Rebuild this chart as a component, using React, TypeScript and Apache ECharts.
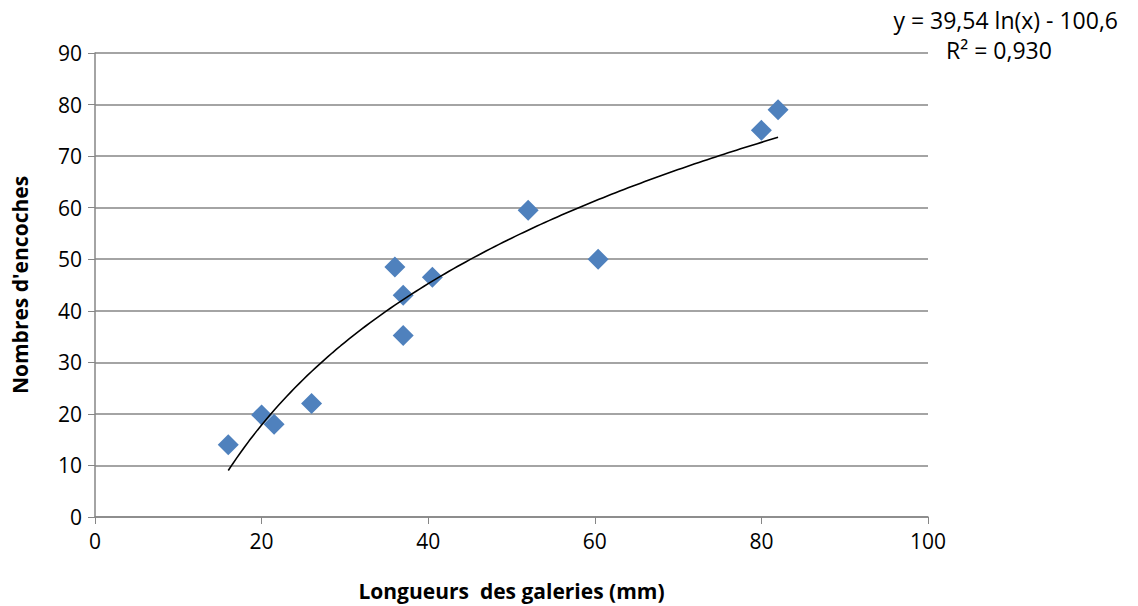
import React, { useEffect, useRef } from "react";
import * as echarts from "echarts";

const lengths = [16, 20, 21.5, 26, 36, 37, 37, 40.5, 52, 60.4, 80, 82];
const notches = [14, 19.8, 18, 22, 48.5, 43, 35.2, 46.5, 59.5, 50, 75, 79];
const trendA = 39.54;
const trendB = -100.6;
const trendFrom = 16;
const trendTo = 82;
const equationText = "y = 39,54 ln(x) - 100,6";
const r2Text = "R² = 0,930";
const xTitle = "Longueurs  des galeries (mm)";
const yTitle = "Nombres d'encoches";

export default function App() {
  const ref = useRef<HTMLDivElement>(null);
  useEffect(() => {
    if (!ref.current) return;
    const chart = echarts.init(ref.current, undefined, { renderer: "svg" });
    const trend: number[][] = [];
    for (let i = 0; i <= 132; i++) {
      const x = trendFrom + ((trendTo - trendFrom) * i) / 132;
      trend.push([x, trendA * Math.log(x) + trendB]);
    }
    const font = "'Open Sans', 'Noto Sans', sans-serif";
    chart.setOption({
      animation: false,
      grid: { left: 95, right: 210, top: 53, bottom: 88 },
      xAxis: {
        type: "value",
        min: 0,
        max: 100,
        interval: 20,
        name: xTitle,
        nameLocation: "middle",
        nameGap: 63,
        nameTextStyle: { fontFamily: font, fontSize: 21, fontWeight: "bold", color: "#000" },
        axisLine: { show: true, lineStyle: { color: "#868686", width: 1.5 } },
        axisTick: { show: true, length: 7, lineStyle: { color: "#868686" } },
        axisLabel: { fontFamily: font, fontSize: 21, color: "#000", margin: 13 },
        splitLine: { show: false },
      },
      yAxis: {
        type: "value",
        min: 0,
        max: 90,
        interval: 10,
        name: yTitle,
        nameLocation: "middle",
        nameGap: 65,
        nameTextStyle: { fontFamily: font, fontSize: 21, fontWeight: "bold", color: "#000" },
        axisLine: { show: true, lineStyle: { color: "#868686", width: 1.5 } },
        axisTick: { show: true, inside: false, length: 7, lineStyle: { color: "#868686" } },
        axisLabel: { fontFamily: font, fontSize: 21, color: "#000", margin: 13 },
        splitLine: { show: true, lineStyle: { color: "#868686", width: 1.5 } },
      },
      series: [
        {
          type: "scatter",
          data: lengths.map((x, i) => [x, notches[i]]),
          symbol: "diamond",
          symbolSize: [21, 21],
          itemStyle: { color: "#4F81BD", opacity: 1 },
          z: 3,
        },
        {
          type: "line",
          data: trend,
          showSymbol: false,
          symbol: "none",
          lineStyle: { color: "#000", width: 1.6 },
          z: 4,
        },
      ],
      graphic: [
        {
          type: "text",
          right: 20,
          top: 8,
          style: { text: equationText, fontFamily: font, fontSize: 23, fill: "#000" },
        },
        {
          type: "text",
          left: 946,
          top: 38,
          style: { text: r2Text, fontFamily: font, fontSize: 23, fill: "#000" },
        },
      ],
    });
    return () => chart.dispose();
  }, []);
  return (
    <div
      ref={ref}
      style={{ position: "absolute", left: 0, top: 0, width: 1138, height: 606 }}
    />
  );
}
